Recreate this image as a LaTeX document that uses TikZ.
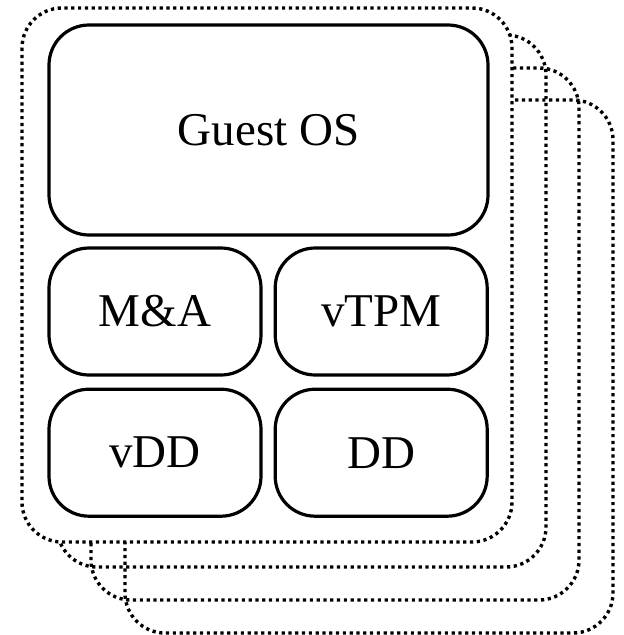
\documentclass[tikz,border=0pt]{standalone}
\usepackage{fontspec}
\setmainfont{Liberation Serif}
\usetikzlibrary{positioning}

\begin{document}
\begin{tikzpicture}[
    x=1pt, y=-1pt,
    card/.style={draw, line width=3.4pt, dash pattern=on 3.2pt off 3.6pt, rounded corners=40pt},
    part/.style={rectangle, draw, line width=3.2pt, rounded corners=40pt, fill=white, minimum width=212pt, minimum height=127pt, align=center, font=\fontsize{47}{56}\selectfont}
]
\useasboundingbox (0,0) rectangle (624,635);

% Stacked guest cards (back to front)
\draw[card] (125,100) rectangle (613,633);
\draw[card] (91,68) rectangle (579,600);
\draw[card] (57,35) rectangle (546,567);
\draw[card, fill=white] (22,8) rectangle (512,542);

% Guest components
\node[part, minimum width=439pt, minimum height=210pt] (guest) at (268.5,130) {Guest OS};
\node[part] (mna) at (155,311.5) {M\&A};
\node[part, right=11pt of mna] (vtpm) {vTPM};
\node[part, below=11pt of mna] (vdd) {vDD};
\node[part, right=11pt of vdd] (dd) {DD};

\end{tikzpicture}
\end{document}
